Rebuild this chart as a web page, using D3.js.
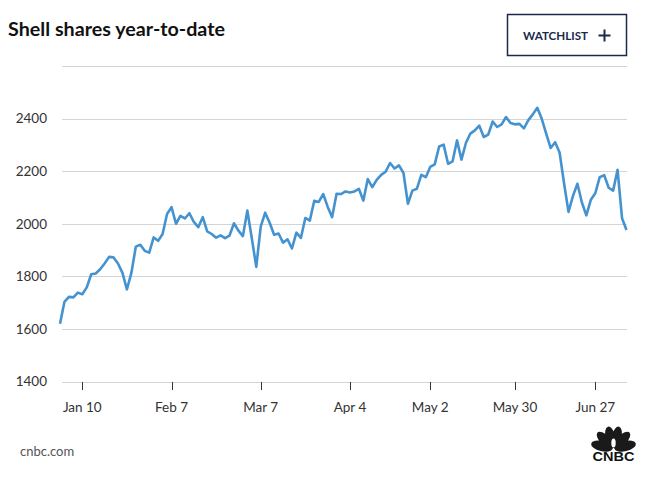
<!DOCTYPE html>
<html>
<head>
<meta charset="utf-8">
<script src="https://cdn.jsdelivr.net/npm/d3@7"></script>
<style>
  html, body { margin: 0; padding: 0; background: #fff; }
  svg { display: block; }
</style>
</head>
<body>
<svg id="chart" width="650" height="480"></svg>
<script>
// ---- data ----
const title = "Shell shares year-to-date";
const source = "cnbc.com";
const yTicks = [1400, 1600, 1800, 2000, 2200, 2400];
const yGrid = [1400, 1600, 1800, 2000, 2200, 2400, 2600];
const xTickIndex = [5, 25, 45, 65, 83, 102, 120];
const xTickLabels = ["Jan 10", "Feb 7", "Mar 7", "Apr 4", "May 2", "May 30", "Jun 27"];
const prices = [
  1620, 1703, 1722, 1720, 1738, 1732, 1758, 1808, 1811, 1827,
  1849, 1874, 1872, 1849, 1813, 1750, 1813, 1913, 1920, 1897,
  1890, 1948, 1935, 1961, 2037, 2063, 2000, 2030, 2020, 2040,
  2007, 1987, 2025, 1971, 1961, 1947, 1956, 1945, 1955,
  2002, 1974, 1953, 2050, 1945, 1836, 1989, 2042, 2004, 1958,
  1963, 1928, 1941, 1906, 1966, 1946, 2022, 2012, 2087, 2083,
  2113, 2065, 2025, 2114, 2113, 2123, 2119, 2123, 2133, 2088,
  2170, 2139, 2167, 2186, 2198, 2231, 2210, 2222, 2193, 2076,
  2126, 2133, 2186, 2177, 2216, 2226, 2294,
  2301, 2228, 2237, 2317, 2244, 2307, 2343, 2355, 2373, 2330,
  2339, 2389, 2368, 2378, 2406, 2383, 2378, 2380, 2363, 2394,
  2416, 2441, 2399, 2343, 2288, 2310, 2271, 2154, 2045, 2106,
  2152, 2081, 2032, 2091, 2116, 2177, 2185, 2137, 2126, 2205,
  2021, 1976
];

const FONT = "Lato, 'Open Sans', sans-serif";
const svg = d3.select("#chart");

const x = d3.scaleLinear().domain([0, prices.length - 1]).range([60, 626.5]);
const y = d3.scaleLinear().domain([1400, 2600]).range([381.5, 66]);

// title
svg.append("text")
  .attr("x", 8).attr("y", 36)
  .attr("font-family", FONT).attr("font-weight", 700).attr("font-size", 18.5)
  .attr("textLength", 217).attr("lengthAdjust", "spacingAndGlyphs")
  .attr("fill", "#111")
  .text(title);

// watchlist button
const btn = svg.append("g");
btn.append("rect")
  .attr("x", 507.5).attr("y", 14.5).attr("width", 119).attr("height", 41)
  .attr("fill", "#fff").attr("stroke", "#1b2a4a").attr("stroke-width", 1.5);
btn.append("text")
  .attr("x", 523).attr("y", 39.5)
  .attr("font-family", FONT).attr("font-weight", 700).attr("font-size", 11.5)
  .attr("textLength", 65).attr("lengthAdjust", "spacingAndGlyphs")
  .attr("fill", "#1b2a4a")
  .text("WATCHLIST");
btn.append("path")
  .attr("d", "M598.5,35.5H610.5M604.5,29.5V41.5")
  .attr("stroke", "#1b2a4a").attr("stroke-width", 2).attr("fill", "none");

// gridlines
svg.append("g").selectAll("line").data(yGrid).join("line")
  .attr("x1", 62).attr("x2", 627)
  .attr("y1", d => Math.round(y(d)) + 0.5).attr("y2", d => Math.round(y(d)) + 0.5)
  .attr("stroke", "#d4d4d4").attr("stroke-width", 1);

// y labels
svg.append("g").selectAll("text").data(yTicks).join("text")
  .attr("x", 47).attr("y", d => y(d)).attr("dy", "0.36em")
  .attr("text-anchor", "end")
  .attr("font-family", FONT).attr("font-size", 13.5).attr("fill", "#333")
  .text(d => d);

// x axis ticks and labels
const xa = svg.append("g");
xa.selectAll("line").data(xTickIndex).join("line")
  .attr("x1", d => Math.round(x(d)) + 0.5).attr("x2", d => Math.round(x(d)) + 0.5)
  .attr("y1", 382).attr("y2", 390)
  .attr("stroke", "#333").attr("stroke-width", 1);
xa.selectAll("text").data(xTickIndex).join("text")
  .attr("x", d => x(d)).attr("y", 412)
  .attr("text-anchor", "middle")
  .attr("font-family", FONT).attr("font-size", 13.5).attr("fill", "#333")
  .text((d, i) => xTickLabels[i]);

// price line
svg.append("path")
  .datum(prices)
  .attr("d", d3.line().x((d, i) => x(i)).y(d => y(d)))
  .attr("fill", "none")
  .attr("stroke", "#4493d0")
  .attr("stroke-width", 2.6)
  .attr("stroke-linejoin", "round");

// source
svg.append("text")
  .attr("x", 20).attr("y", 456)
  .attr("font-family", FONT).attr("font-size", 13).attr("fill", "#555")
  .text(source);

// CNBC logo (peacock + wordmark)
const logo = svg.append("g");
const cx = 613.5, cy = 449;
const angles = [-166, -134, -104, -76, -46, -14];
angles.forEach(a => {
  logo.append("ellipse")
    .attr("cx", 0).attr("cy", 0).attr("rx", 11).attr("ry", 5)
    .attr("transform", `translate(${cx},${cy}) rotate(${a}) translate(12,0)`)
    .attr("fill", "#1a1a1a");
});
logo.append("ellipse").attr("cx", cx).attr("cy", cy - 6).attr("rx", 2.2).attr("ry", 4.5)
  .attr("fill", "#fff");
logo.append("text")
  .attr("x", cx).attr("y", 461).attr("text-anchor", "middle")
  .attr("font-family", "'Liberation Sans', Arial, sans-serif").attr("font-weight", 700)
  .attr("font-size", 12).attr("textLength", 42).attr("lengthAdjust", "spacingAndGlyphs")
  .attr("fill", "#111")
  .text("CNBC");
</script>
</body>
</html>
